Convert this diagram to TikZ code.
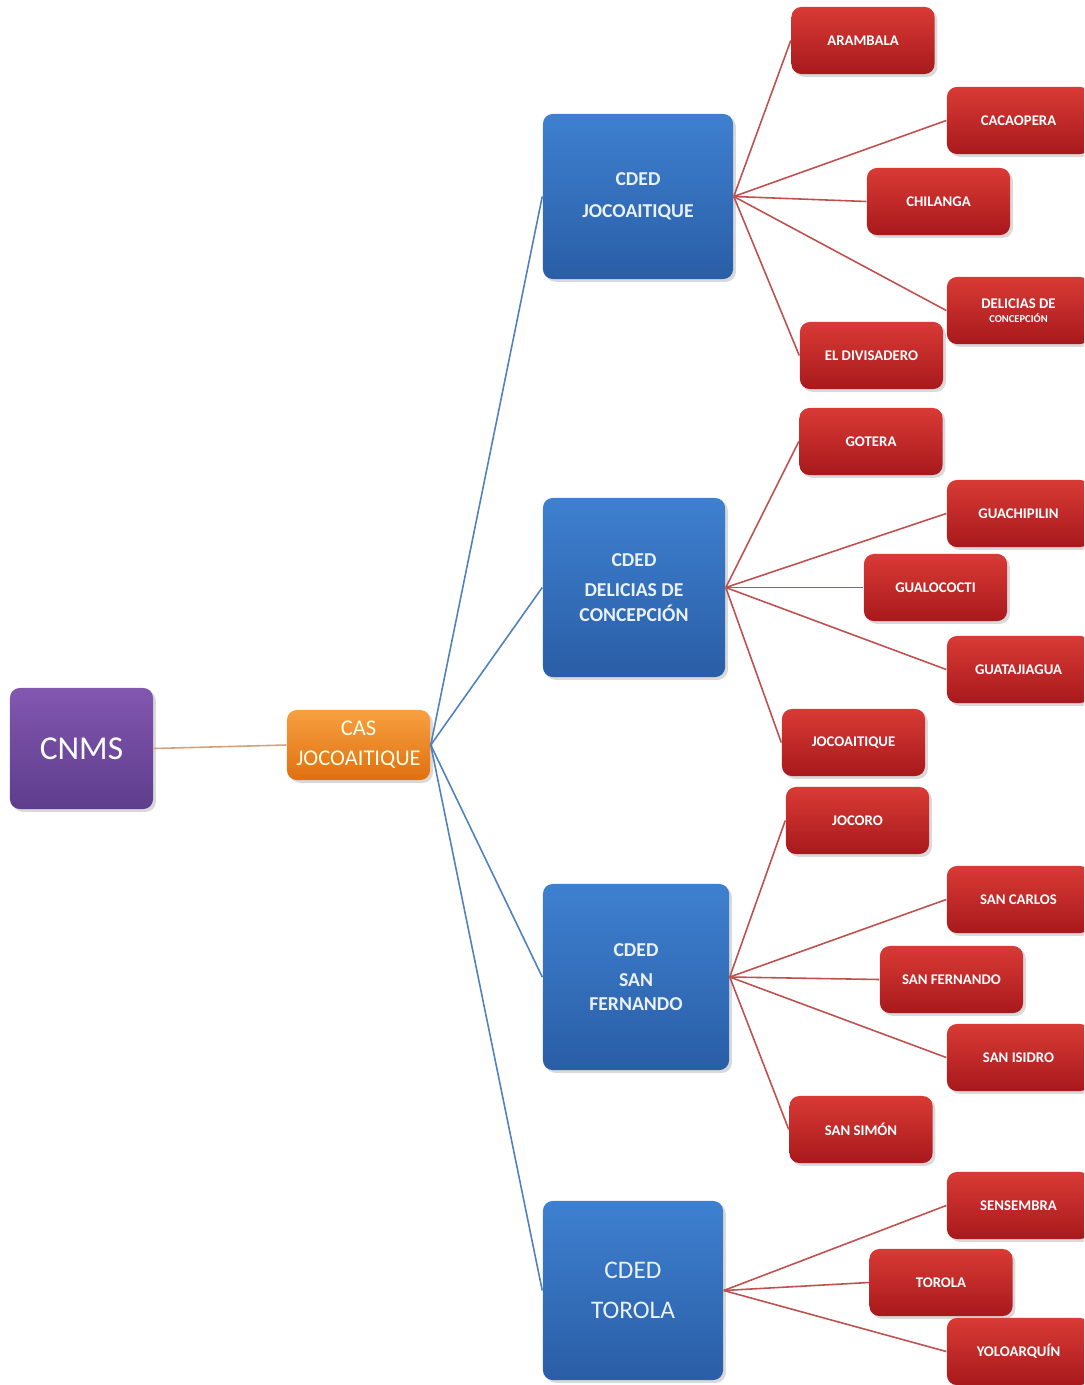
\documentclass[tikz,border=0pt]{standalone}
\usepackage{fontspec}
\setmainfont{Carlito}
\usetikzlibrary{shadows}

\definecolor{rootA}{HTML}{8257B0}
\definecolor{rootB}{HTML}{5E3D8C}
\definecolor{casA}{HTML}{F7A040}
\definecolor{casB}{HTML}{E07010}
\definecolor{cdedA}{HTML}{3E80D0}
\definecolor{cdedB}{HTML}{2A5EA6}
\definecolor{leafA}{HTML}{D93A35}
\definecolor{leafB}{HTML}{A8191C}
\definecolor{txtblue}{HTML}{EAF1FB}
\definecolor{linkblue}{HTML}{4F81BD}
\definecolor{linkred}{HTML}{C0504D}
\definecolor{linktan}{HTML}{D6A07A}

\begin{document}
\begin{tikzpicture}
  [x=0.01cm,y=-0.01cm,
   every node/.style={rounded corners=2.8pt,align=center,inner sep=1pt,
     drop shadow={opacity=.3,shadow xshift=.8pt,shadow yshift=-.8pt}},
   root/.style={top color=rootA,bottom color=rootB,text=white,
     minimum width=1.43cm,minimum height=1.21cm,font=\fontsize{9.5}{11}\selectfont},
   cas/.style={top color=casA,bottom color=casB,text=white!90!yellow,
     minimum width=1.43cm,minimum height=.70cm,font=\fontsize{6.4}{8.6}\selectfont},
   cded/.style={top color=cdedA,bottom color=cdedB,text=txtblue,
     font=\bfseries\fontsize{5.6}{7}\selectfont},
   leaf/.style={top color=leafA,bottom color=leafB,text=white,
     minimum width=1.43cm,minimum height=.67cm,font=\bfseries\fontsize{4.2}{5}\selectfont},
   blueline/.style={draw=linkblue,line width=.45pt},
   redline/.style={draw=linkred,line width=.45pt}]

  \useasboundingbox (0,0) rectangle (1084,1385);
  \clip (0,0) rectangle (1084,1385);

  \node[root] (cnms) at (81.5,748.5) {CNMS};
  \node[cas] (cas) at (358.5,745) {CAS\\JOCOAITIQUE};

  \node[cded,minimum width=1.90cm,minimum height=1.65cm] (cj) at (638,196.5) {CDED\\[2pt]JOCOAITIQUE};
  \node[cded,minimum width=1.82cm,minimum height=1.79cm] (cd) at (634,587.5) {CDED\\[1.5pt]DELICIAS DE\\CONCEPCIÓN};
  \node[cded,minimum width=1.86cm,minimum height=1.86cm] (csf) at (636,977) {CDED\\[1.5pt]SAN\\FERNANDO};
  \node[cded,minimum width=1.80cm,minimum height=1.79cm,font=\fontsize{7.2}{9}\selectfont] (ct) at (633,1290.5) {CDED\\[2.5pt]TOROLA};

  % municipios
  \node[leaf] (arambala) at (863,40.5) {ARAMBALA};
  \node[leaf] (cacaopera) at (1018.5,120.5) {CACAOPERA};
  \node[leaf] (chilanga) at (938.5,201.5) {CHILANGA};
  \node[leaf] (delicias) at (1018.5,310.5) {DELICIAS DE\\[-1pt]{\fontsize{3}{3.5}\selectfont CONCEPCIÓN}};
  \node[leaf] (divisadero) at (871.5,355.5) {EL DIVISADERO};
  \node[leaf] (gotera) at (871,441.5) {GOTERA};
  \node[leaf] (guachipilin) at (1018.5,513.5) {GUACHIPILIN};
  \node[leaf] (gualococti) at (935.5,587.5) {GUALOCOCTI};
  \node[leaf] (guatajiagua) at (1018.5,669.5) {GUATAJIAGUA};
  \node[leaf] (jocoaitique) at (853.5,742.5) {JOCOAITIQUE};
  \node[leaf] (jocoro) at (857.5,820.5) {JOCORO};
  \node[leaf] (sancarlos) at (1018.5,899.5) {SAN CARLOS};
  \node[leaf] (sanfernando) at (951.5,979.5) {SAN FERNANDO};
  \node[leaf] (sanisidro) at (1018.5,1057.5) {SAN ISIDRO};
  \node[leaf] (sansimon) at (861,1129.5) {SAN SIMÓN};
  \node[leaf] (sensembra) at (1018.5,1205.5) {SENSEMBRA};
  \node[leaf] (torola) at (941,1282.5) {TOROLA};
  \node[leaf] (yoloarquin) at (1018.5,1351.5) {YOLOARQUÍN};

  \draw[draw=linktan,line width=.45pt] (cnms.east) -- (cas.west);

  \foreach \to in {cj,cd,csf,ct}
    \draw[blueline] (cas.east) -- (\to.west);

  \foreach \from/\to in {cj/arambala,cj/cacaopera,cj/chilanga,cj/delicias,cj/divisadero,
      cd/gotera,cd/guachipilin,cd/gualococti,cd/guatajiagua,cd/jocoaitique,
      csf/jocoro,csf/sancarlos,csf/sanfernando,csf/sanisidro,csf/sansimon,
      ct/sensembra,ct/torola,ct/yoloarquin}
    \draw[redline] (\from.east) -- (\to.west);

\end{tikzpicture}
\end{document}
